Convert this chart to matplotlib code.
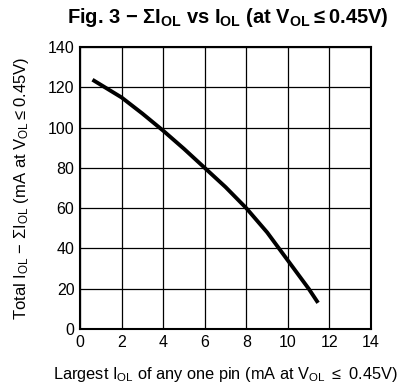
import matplotlib.pyplot as plt
import numpy as np

# data
x_iol = [0.6, 2, 3, 4, 5, 6, 7, 8, 9, 10, 11, 11.45]
y_sum = [123.8, 115, 107, 98.5, 89.5, 80, 70.5, 60, 48, 34, 20, 13]

xticks = [0, 2, 4, 6, 8, 10, 12, 14]
yticks = [0, 20, 40, 60, 80, 100, 120, 140]

plt.rcParams['font.family'] = ['Liberation Sans', 'DejaVu Sans']
plt.rcParams['mathtext.default'] = 'regular'

fig = plt.figure(figsize=(3.99, 3.83), dpi=100)
ax = fig.add_axes([0.2005, 0.141, 0.7295, 0.736])

ax.plot(x_iol, y_sum, color='black', lw=2.8, solid_capstyle='butt')

ax.set_xlim(0, 14)
ax.set_ylim(0, 140)
ax.set_xticks(xticks)
ax.set_yticks(yticks)
ax.grid(True, color='black', lw=0.9)
ax.tick_params(length=0, labelsize=11.5, pad=4)
for s in ax.spines.values():
    s.set_linewidth(1.5)

fig.text(0.57, 0.955, r'Fig. 3 $-$ $\Sigma$I$_{OL}$ vs I$_{OL}$ (at V$_{OL}$$\leq$0.45V)',
         ha='center', va='center', fontsize=14.5, fontweight='bold')
ax.set_xlabel(r'Largest I$_{OL}$ of any one pin (mA at V$_{OL}$ $\leq$ 0.45V)',
              fontsize=11.8, labelpad=11)
ax.set_ylabel(r'Total I$_{OL}$ $-$ $\Sigma$I$_{OL}$ (mA at V$_{OL}$$\leq$0.45V)',
              fontsize=12, labelpad=12)

fig.savefig('out.png', dpi=100)
